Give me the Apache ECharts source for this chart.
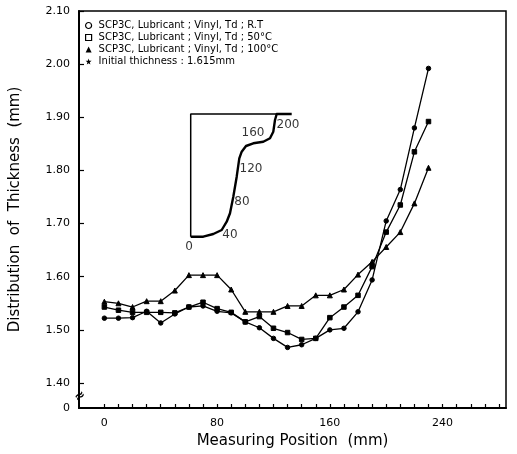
<!DOCTYPE html>
<html lang="en">
  <head>
    <meta charset="UTF-8" />
    <title>Distribution of Thickness</title>
    <script src="https://cdn.jsdelivr.net/npm/echarts@6/dist/echarts.min.js"></script>
  </head>
  <body style="margin:0;background:#fff">
    <div id="main" style="width:517px;height:454px;"></div>
    <script type="text/javascript">
      // measuring positions (mm)
      var positions = [0, 10, 20, 30, 40, 50, 60, 70, 80, 90, 100, 110, 120, 130, 140, 150, 160, 170, 180, 190, 200, 210, 220, 230];
      // thickness (mm)
      var roomTemp = [1.522, 1.522, 1.523, 1.535, 1.513, 1.53, 1.543, 1.545, 1.535, 1.532, 1.515, 1.504, 1.484, 1.467, 1.472, 1.484, 1.5, 1.503, 1.534, 1.594, 1.705, 1.764, 1.88, 1.992];
      var temp50 = [1.543, 1.537, 1.533, 1.533, 1.533, 1.532, 1.543, 1.552, 1.54, 1.533, 1.515, 1.525, 1.503, 1.495, 1.482, 1.484, 1.523, 1.543, 1.565, 1.619, 1.684, 1.735, 1.835, 1.892];
      var temp100 = [1.553, 1.55, 1.543, 1.554, 1.554, 1.574, 1.603, 1.603, 1.603, 1.576, 1.534, 1.534, 1.534, 1.545, 1.545, 1.565, 1.565, 1.576, 1.604, 1.628, 1.656, 1.684, 1.738, 1.805];

      var seriesNames = [
        "SCP3C, Lubricant ; Vinyl, Td ; R.T",
        "SCP3C, Lubricant ; Vinyl, Td ; 50°C",
        "SCP3C, Lubricant ; Vinyl, Td ; 100°C",
        "Initial thichness : 1.615mm",
      ];
      var xTicks = [0, 10, 20, 30, 40, 50, 60, 70, 80, 90, 100, 110, 120, 130, 140, 150, 160, 170, 180, 190, 200, 210, 220, 230, 240, 250, 260, 270, 280];
      var xLabels = [0, 80, 160, 240];
      var yTicks = [1.4, 1.5, 1.6, 1.7, 1.8, 1.9, 2.0, 2.1];
      var yBase = 1.353; // shown as "0" below the axis break

      // inset sketch of the cup section (sketch units)
      var insetFrame = [[0, 0], [0, 122.7], [86, 122.7]];
      var insetProfile = [[0, 0], [12.6, 0], [22.6, 2.7], [31, 6.7], [36, 15], [39.3, 23.4], [42.6, 40], [46, 60], [48.6, 78.4], [51, 85], [55.3, 90.7], [62.6, 93.4], [72.6, 95], [79.3, 98.4], [82.6, 105], [84.3, 116.7], [86, 122.7], [101, 122.7]];
      var insetMarks = [[-1.7, -10.3, "0"], [39.3, 1.7, "40"], [51.3, 34.7, "80"], [60.3, 67.7, "120"], [62.3, 103.7, "160"], [97.3, 111.7, "200"]];

      function pairs(ys) {
        return positions.map(function (x, i) { return [x, ys[i]]; });
      }

      var font = "DejaVu Sans";
      var lineSeries = function (name, ys, symbol) {
        return {
          name: name,
          type: "line",
          xAxisIndex: 0,
          yAxisIndex: 0,
          data: pairs(ys),
          symbol: symbol,
          symbolSize: symbol === "triangle" ? 5 : 4.5,
          showAllSymbol: true,
          lineStyle: { color: "#000", width: 1.3 },
          itemStyle: { color: "#000", borderColor: "#000" },
          emphasis: { disabled: true },
          z: 3,
        };
      };

      var starPath = "path://M5,0 L6.2,3.4 L10,3.6 L7,6 L8,9.6 L5,7.6 L2,9.6 L3,6 L0,3.6 L3.8,3.4 Z";

      var myChart = echarts.init(document.getElementById("main"));
      var option = {
        animation: false,
        textStyle: { fontFamily: font, color: "#000" },
        legend: {
          orient: "vertical",
          left: 85,
          top: 20,
          itemWidth: 6,
          itemHeight: 6,
          itemGap: 1,
          padding: 0,
          textStyle: { fontFamily: font, fontSize: 10, lineHeight: 11, color: "#000", padding: [0, 0, 0, 2] },
          data: [
            { name: seriesNames[0], icon: "circle", itemStyle: { color: "#fff", borderColor: "#000", borderWidth: 1.2 } },
            { name: seriesNames[1], icon: "rect", itemStyle: { color: "#fff", borderColor: "#000", borderWidth: 1.2 } },
            { name: seriesNames[2], icon: "triangle", itemStyle: { color: "#000" } },
            { name: seriesNames[3], icon: starPath, itemStyle: { color: "#000" } },
          ],
          selectedMode: false,
        },
        grid: [
          { left: 79, right: 11, top: 11, bottom: 46, show: true, borderColor: "#000", borderWidth: 1.5, backgroundColor: "transparent" },
          { left: 180, top: 90, width: 130, height: 160 },
        ],
        xAxis: [
          {
            type: "value",
            gridIndex: 0,
            min: -18,
            max: 285,
            name: "Measuring Position  (mm)",
            nameLocation: "middle",
            nameGap: 25,
            nameTextStyle: { fontFamily: font, fontSize: 15, color: "#000" },
            axisLine: { onZero: false, lineStyle: { color: "#000", width: 2 } },
            axisTick: { inside: true, length: 4, customValues: xTicks, lineStyle: { color: "#000", width: 1.2 } },
            axisLabel: { customValues: xLabels, fontSize: 11, color: "#000", margin: 10 },
            splitLine: { show: false },
          },
          { type: "value", gridIndex: 1, min: -10.7, max: 119.3, show: false },
        ],
        yAxis: [
          {
            type: "value",
            gridIndex: 0,
            min: yBase,
            max: 2.1,
            name: "Distribution  of  Thickness  (mm)",
            nameLocation: "middle",
            nameGap: 56,
            nameTextStyle: { fontFamily: font, fontSize: 15, color: "#000" },
            axisLine: { onZero: false, lineStyle: { color: "#000", width: 2 } },
            axisTick: { inside: true, length: 5, customValues: yTicks, lineStyle: { color: "#000", width: 1.2 } },
            axisLabel: {
              customValues: [yBase].concat(yTicks),
              fontSize: 11,
              color: "#000",
              margin: 9,
              formatter: function (v) {
                return v < 1.39 ? "0" : v.toFixed(2);
              },
            },
            splitLine: { show: false },
          },
          { type: "value", gridIndex: 1, min: -13.3, max: 146.7, show: false },
        ],
        graphic: [
          { type: "text", left: 72, top: 388, style: { text: "≈", font: "bold 13px DejaVu Sans", fill: "#000" }, rotation: 0.6 },
        ],
        series: [
          lineSeries(seriesNames[0], roomTemp, "circle"),
          lineSeries(seriesNames[1], temp50, "rect"),
          lineSeries(seriesNames[2], temp100, "triangle"),
          { name: seriesNames[3], type: "line", data: [], symbol: starPath, itemStyle: { color: "#000" } },
          {
            type: "line",
            xAxisIndex: 1,
            yAxisIndex: 1,
            data: insetFrame,
            symbol: "none",
            lineStyle: { color: "#000", width: 1.5 },
            silent: true,
          },
          {
            type: "line",
            xAxisIndex: 1,
            yAxisIndex: 1,
            data: insetProfile,
            symbol: "none",
            lineStyle: { color: "#000", width: 2.4, join: "round" },
            silent: true,
          },
          {
            type: "scatter",
            xAxisIndex: 1,
            yAxisIndex: 1,
            symbolSize: 0,
            data: insetMarks.map(function (m) { return { value: [m[0], m[1]], name: m[2] }; }),
            label: { show: true, formatter: "{b}", position: "inside", fontSize: 12, color: "#000", fontFamily: font },
            silent: true,
          },
        ],
      };
      myChart.setOption(option);
    </script>
  </body>
</html>
